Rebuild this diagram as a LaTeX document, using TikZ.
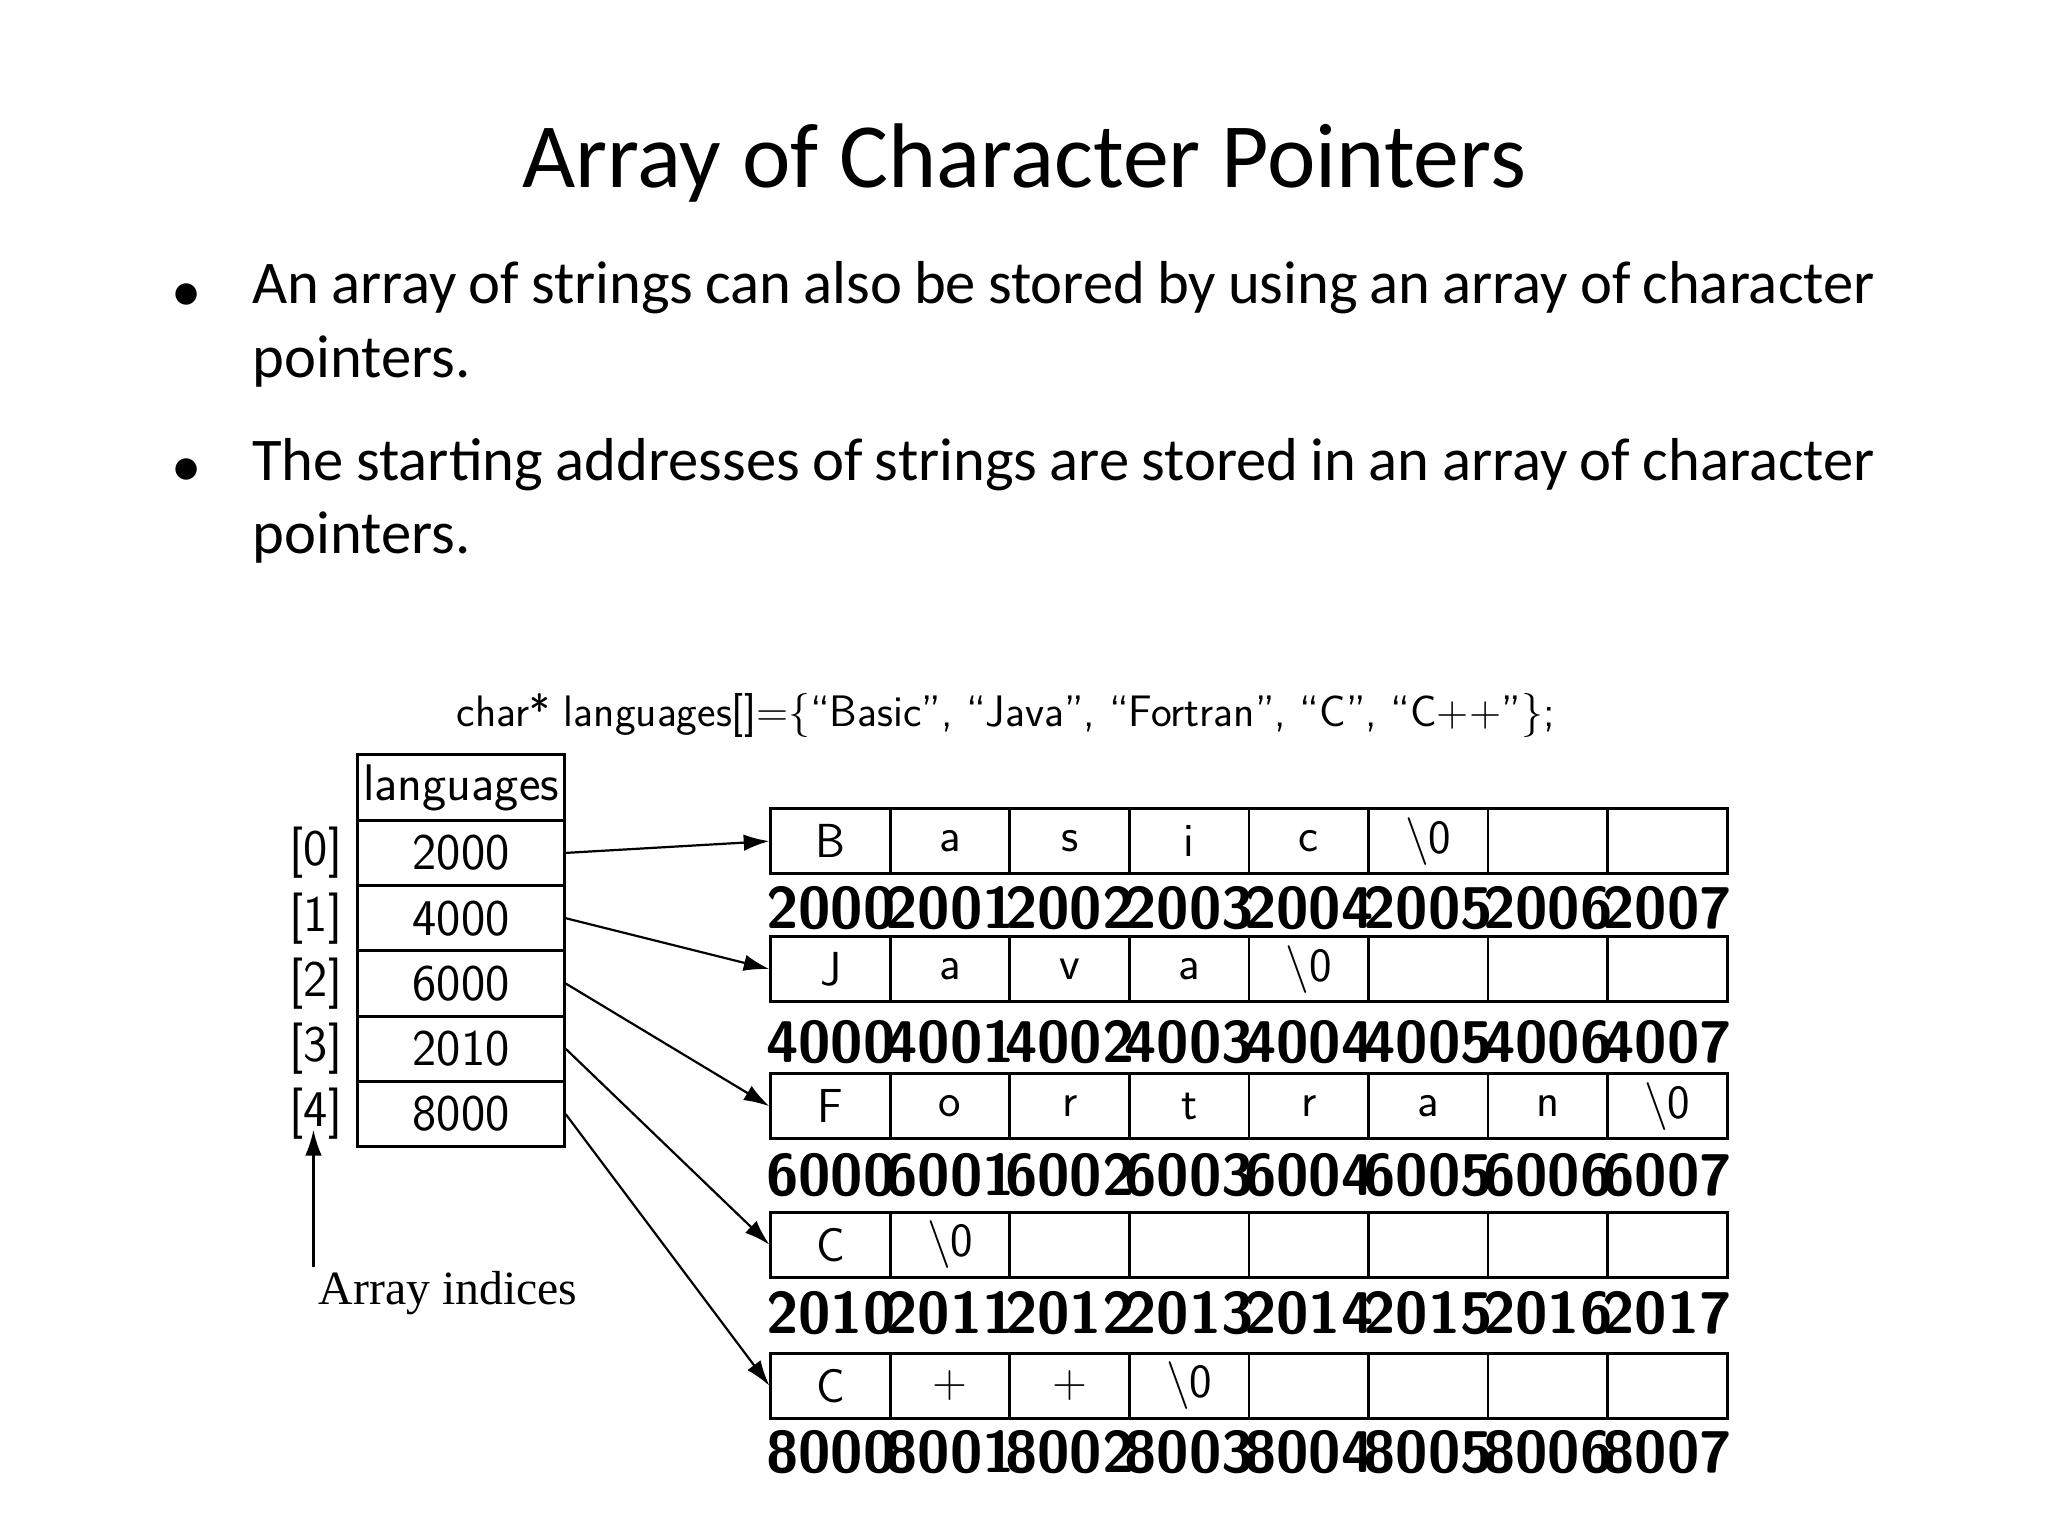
\documentclass[tikz,border=0pt]{standalone}
\usepackage{fontspec}
\setmainfont{Carlito}
\newfontfamily\cond{PT Sans Narrow}[Scale=1]
\newfontfamily\serifx{Liberation Serif}
\usetikzlibrary{arrows.meta}
\begin{document}
\begin{tikzpicture}[x=0.025cm,y=-0.025cm,
  cell/.style={draw,line width=1.6pt,minimum width=91.5*0.025cm,minimum height=50*0.025cm,inner sep=0pt,font=\fontsize{26}{28}\selectfont\sffamily},
  tcell/.style={draw,line width=1.6pt,minimum width=158*0.025cm,minimum height=50*0.025cm,inner sep=0pt,font=\fontsize{28}{30}\selectfont\sffamily},
  addr/.style={font=\fontsize{32}{34}\selectfont\bfseries\sffamily},
  arr/.style={-{Latex[length=14pt,width=9pt]},line width=1.2pt}]
\useasboundingbox (0,0) rectangle (1568,1176);
\node (title) at (784,125) {\fontsize{50}{56}\selectfont Array of Character Pointers};
\node[anchor=north west,text width=1242*0.025cm,align=justify,inner sep=0pt,font=\fontsize{33}{40}\selectfont] (b1) at (193,200)
  {An array of strings can also be stored by using an array of character pointers.};
\node[anchor=north west,text width=1242*0.025cm,align=justify,inner sep=0pt,font=\fontsize{33}{40}\selectfont] (b2) at (193,335)
  {The starting addresses of strings are stored in an array of character pointers.};
\node[font=\fontsize{33}{40}\selectfont] (d1) at (143,228) {•};
\node[font=\fontsize{33}{40}\selectfont] (d2) at (143,362) {•};
\node[font=\fontsize{24}{26}\selectfont\sffamily] (code) at (770,548) {char* languages[]=\{“Basic”, “Java”, “Fortran”, “C”, “C++”\};};
% left table
\node[tcell] (h) at (353,603) {languages};
\foreach \v [count=\i from 0] in {2000,4000,6000,2010,8000}{
  \node[tcell] (t\i) at (353,653+50*\i) {\v};
  \node[font=\fontsize{28}{30}\selectfont\sffamily] (ix\i) at (242,653+50*\i) {[\i]};
}
\coordinate (ia) at (240,970);
\draw[arr] (ia) -- (240,865);
\node[font=\fontsize{26}{28}\selectfont\serifx] (ai) at (343,990) {Array indices};
% grid
\def\ys{{644,742,847,953,1061}}
\def\ay{{695,798,900,1005,1112}}
\foreach \r/\base/\chars in {0/2000/{B,a,s,i,c,\textbackslash 0,,},1/4000/{J,a,v,a,\textbackslash 0,,,},2/6000/{F,o,r,t,r,a,n,\textbackslash 0},3/2010/{C,\textbackslash 0,,,,,,},4/8000/{C,+,+,\textbackslash 0,,,,}}{
  \pgfmathsetmacro\yy{\ys[\r]}
  \pgfmathsetmacro\ya{\ay[\r]}
  \foreach \c [count=\j from 0] in \chars {
    \node[cell] (g\r-\j) at (636+91.5*\j,\yy) {\c};
    \pgfmathtruncatemacro\ad{\base+\j}
    \node[addr] (a\r-\j) at (636+91.5*\j,\ya) {\ad};
  }
}
\draw[arr] (t0.east) -- (g0-0.west);
\draw[arr] (t1.east) -- (g1-0.west);
\draw[arr] (t2.east) -- (g2-0.west);
\draw[arr] (t3.east) -- (g3-0.west);
\draw[arr] (t4.east) -- (g4-0.west);
\end{tikzpicture}
\end{document}
